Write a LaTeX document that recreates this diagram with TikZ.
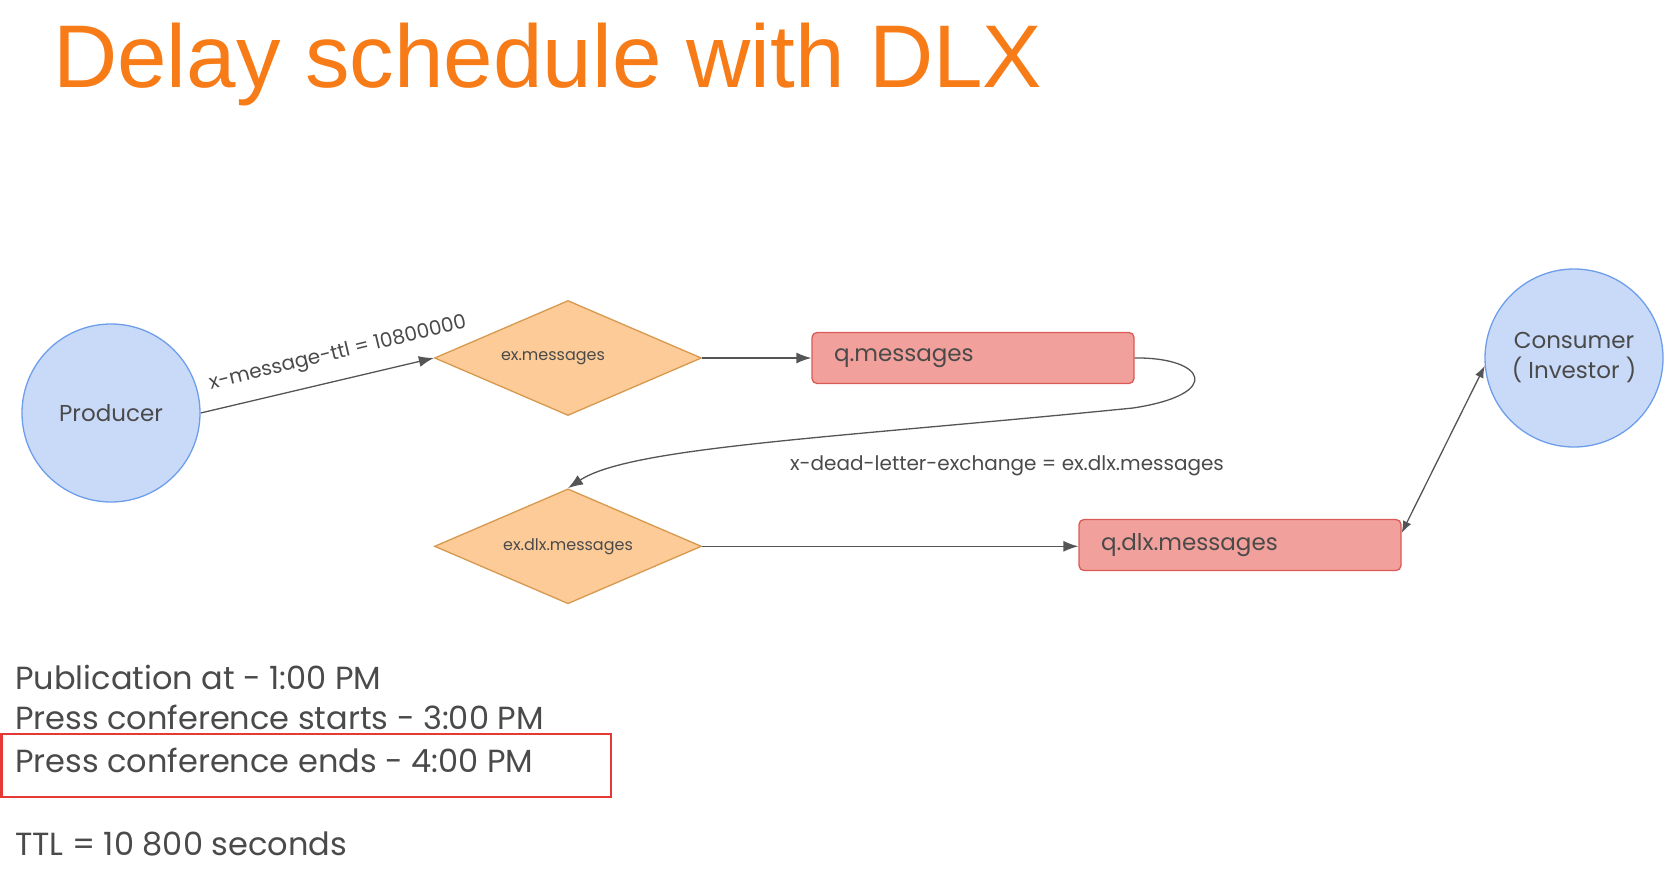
\documentclass[tikz,border=0pt]{standalone}
\usepackage{fontspec}
\setmainfont{Poppins}
\newfontfamily\titlefont{Liberation Sans}
\usetikzlibrary{shapes.geometric,positioning,arrows.meta}
\definecolor{titleorange}{HTML}{F77B16}
\definecolor{textgray}{HTML}{4A4A4A}
\definecolor{linegray}{HTML}{555555}
\definecolor{circlefill}{HTML}{C9DAF8}
\definecolor{circledraw}{HTML}{6D9EEB}
\definecolor{exfill}{HTML}{FCCB98}
\definecolor{exdraw}{HTML}{D6994E}
\definecolor{qfill}{HTML}{F2A09B}
\definecolor{qdraw}{HTML}{DB5A55}
\definecolor{boxred}{HTML}{E53935}

\begin{document}
\begin{tikzpicture}[x=1pt,y=-1pt]
      \tikzstyle{main}=[circle, minimum size = 178pt, line width=1.3pt, draw=circledraw, fill=circlefill, text=textgray, align=center, font=\fontsize{23}{30}\selectfont]
      \tikzstyle{exchange}=[diamond, aspect=2.3, minimum width = 267pt, minimum height = 115pt, inner sep=0pt, line width=1.3pt, draw=exdraw, fill=exfill, text=textgray, font=\fontsize{16}{20}\selectfont]
      \tikzstyle{queue}=[rectangle, rounded corners=5pt, minimum width = 322pt, minimum height = 51pt, text width=278pt, align=left, line width=1.3pt, draw=qdraw, fill=qfill, text=textgray, font=\fontsize{23}{30}\selectfont]
      \tikzstyle{connect}=[-{Latex[length=15pt,width=11pt]}, line width=1.3pt, draw=linegray]
      \tikzstyle{lbl}=[inner sep=2pt, text=textgray, font=\fontsize{20}{24}\selectfont]
      \tikzstyle{note}=[anchor=base west, inner sep=0pt, text=textgray, font=\fontsize{32}{38}\selectfont]
      \tikzstyle{highlight}=[draw=boxred, line width=2.5pt]

      \useasboundingbox (0,0) rectangle (1680,875);

      \node[anchor=base west, inner sep=0pt, text=titleorange, font=\titlefont\fontsize{89}{100}\selectfont] (title) at (53,88) {Delay schedule with DLX};

      \node[main] (producer) at (111,413) {Producer};
      \node[exchange] (exmsg) at (568,358) {ex.messages\hspace*{30pt}};
      \node[queue] (qmsg) at (973,358) {q.messages};
      \node[exchange] (exdlx) [below=72pt of exmsg] {ex.dlx.messages};
      \node[queue] (qdlx) at (1240,545) {q.dlx.messages};
      \node[main] (consumer) at (1574,358) {Consumer\\( Investor )};

      \path (producer.east) edge [connect] (exmsg.west);
      \path (exmsg.east) edge [connect] (qmsg.west);
      \path (exdlx.east) edge [connect] (exdlx.east -| qdlx.west);
      \draw[connect] (qmsg.east) .. controls (1205,357) and (1225,394) .. (1133,408)
            .. controls (833,438) and (630,447) .. (exdlx.north);
      \draw[connect, {Latex[length=12pt,width=9pt]}-{Latex[length=12pt,width=9pt]}] ([yshift=12pt]qdlx.east) -- (consumer.185);

      \node[lbl, rotate=13.5] (ttl) at (338,354) {x-message-ttl = 10800000};
      \node[lbl] (dlx) at (1007,466) {x-dead-letter-exchange = ex.dlx.messages};

      \node[note] (pub) at (15,689) {Publication at - 1:00 PM};
      \node[note] (starts) at (15,729) {Press conference starts - 3:00 PM};
      \node[note] (ends) at (15,772) {Press conference ends - 4:00 PM};
      \node[note] (ttlsec) at (15,855) {TTL = 10 800 seconds};
      \draw[highlight] (1.5,734) rectangle (611,797);
    \end{tikzpicture}
\end{document}
